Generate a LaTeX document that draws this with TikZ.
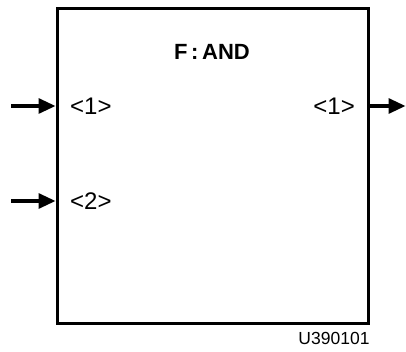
\documentclass[tikz,border=0pt]{standalone}
\usepackage{fontspec}
\setmainfont{Liberation Sans}
\usetikzlibrary{arrows.meta}
\tikzset{
  blockbox/.style={draw=black, line width=3pt, minimum width=311pt, minimum height=314pt, inner sep=0pt},
  sig/.style={line width=3.2pt, -{Triangle[length=17pt,width=15pt]}},
  port/.style={font=\fontsize{24}{28}\selectfont, inner sep=0pt},
  title/.style={font=\fontsize{22}{26}\selectfont\bfseries, inner sep=0pt},
  idlabel/.style={font=\fontsize{17.5}{20}\selectfont, inner sep=0pt}
}
\begin{document}
\begin{tikzpicture}[x=1pt,y=-1pt]
\useasboundingbox (0,0) rectangle (406,352);
\node[blockbox] (f) at (212.5,166) {};
\node[title] (t) at (212,52) {F\,:\,AND};
\node[port, anchor=west] (p1) at (70,106) {<1>};
\node[port, anchor=west] (p2) at (70,201) {<2>};
\node[port, anchor=east] (q1) at (355,106) {<1>};
\node[idlabel] (id) at (334,338) {U390101};
\coordinate (i1) at (11,106);
\coordinate (i2) at (11,201);
\coordinate (o1) at (405.5,106);
\draw[sig] (i1) -- (i1 -| f.west);
\draw[sig] (i2) -- (i2 -| f.west);
\draw[sig] (o1 -| f.east) -- (o1);
\end{tikzpicture}
\end{document}
